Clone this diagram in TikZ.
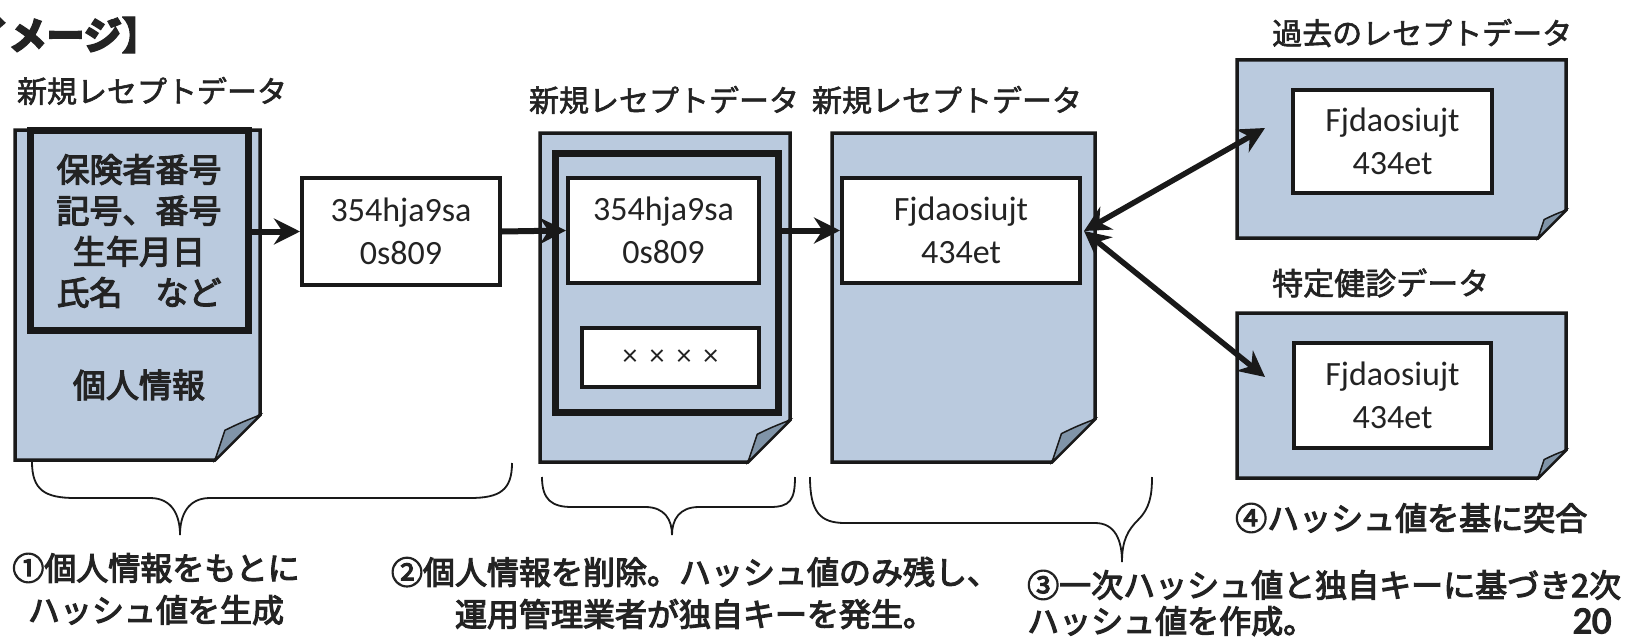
\documentclass[tikz,border=0pt]{standalone}
\usepackage{fontspec}
\setmainfont{Noto Sans CJK JP}[FakeBold=2]
\newfontfamily\jph{Noto Sans CJK JP}[FakeBold=3.5]
\newfontfamily\latf{Carlito}
\newfontfamily\latfb{Carlito}[FakeBold=4]
\usetikzlibrary{arrows.meta}
\definecolor{docblue}{RGB}{186,202,222}
\definecolor{flapc}{RGB}{128,148,168}
\definecolor{ink}{RGB}{25,25,25}
\definecolor{txt}{RGB}{35,35,35}
\newcommand{\paperdoc}[5]{%
  \draw[docline] (#1,#2) -- (#3,#2) -- (#3,#4-#5) -- (#3-#5,#4) -- (#1,#4) -- cycle;
  \draw[flap] (#3,#4-#5) .. controls (#3-0.45*#5,#4-0.82*#5) .. (#3-0.78*#5,#4-0.66*#5) -- (#3-#5,#4) -- cycle;}
\begin{document}
\begin{tikzpicture}[x=1pt,y=-1pt,
  lab/.style={font=\fontsize{30}{36}\selectfont, inner sep=0pt, text=txt},
  note/.style={font=\jph\fontsize{32}{42}\selectfont, inner sep=0pt, text=txt},
  hashbox/.style={draw=ink, line width=4pt, fill=white, text=txt,
     font=\latf\fontsize{34}{43}\selectfont, align=center, inner sep=0pt},
  thickbox/.style={draw=ink, line width=7pt, fill=docblue, inner sep=0pt},
  docline/.style={draw=ink, line width=3.5pt, fill=docblue, line join=miter},
  flap/.style={draw=ink, line width=1.5pt, fill=flapc},
  arr/.style={draw=ink, line width=6pt, -{Stealth[length=26pt,width=26pt]}},
  darr/.style={draw=ink, line width=5.5pt, {Stealth[length=26pt,width=26pt]}-{Stealth[length=26pt,width=26pt]}},
  brace/.style={draw=ink, line width=1.8pt}]
\useasboundingbox (0,0) rectangle (1641,642);
\fill[white] (0,0) rectangle (1641,642);

% title
\node[lab, font=\jph\fontsize{38}{44}\selectfont\bfseries, anchor=east] (title) at (160,35) {【イメージ】};

% labels
\node[lab] (l1) at (152,91) {新規レセプトデータ};
\node[lab] (l2) at (664,100) {新規レセプトデータ};
\node[lab] (l3) at (947,100) {新規レセプトデータ};
\node[lab, anchor=west] (l4) at (1272,33) {過去のレセプトデータ};
\node[lab, anchor=west, font=\fontsize{31}{36}\selectfont] (l5) at (1272,283) {特定健診データ};

% documents
\paperdoc{15}{130}{260}{460}{45}
\paperdoc{540}{133}{790}{462}{42}
\paperdoc{832}{133}{1095}{462}{43}
\paperdoc{1237}{60}{1566}{238}{28}
\paperdoc{1237}{313}{1566}{478}{28}

% doc 1 contents
\node[thickbox, minimum width=218pt, minimum height=200pt] (ib1) at (139,230) {};
\node[note, font=\jph\fontsize{33}{41}\selectfont, align=center] (pi) at (139,231)
  {保険者番号\\記号、番号\\生年月日\\氏名　など};
\node[note, font=\jph\fontsize{33}{40}\selectfont] (pl) at (139,385) {個人情報};

% hash boxes
\node[hashbox, minimum width=198pt, minimum height=107pt] (h1) at (401,231.5) {354hja9sa\\0s809};
\node[thickbox, minimum width=223pt, minimum height=259pt] (ib2) at (666.5,282.5) {};
\node[hashbox, minimum width=191pt, minimum height=105pt] (h2) at (663.5,230.5) {354hja9sa\\0s809};
\node[hashbox, minimum width=177pt, minimum height=59pt, font=\latf\fontsize{30}{36}\selectfont] (x2) at (670.5,357.5)
  {×\hspace{12pt}×\hspace{12pt}×\hspace{12pt}×};
\node[hashbox, minimum width=238pt, minimum height=105pt] (h3) at (961,230.5) {Fjdaosiujt\\434et};
\node[hashbox, minimum width=199pt, minimum height=103pt] (h4) at (1392.5,141.5) {Fjdaosiujt\\434et};
\node[hashbox, minimum width=197pt, minimum height=105pt] (h5) at (1392.5,395.5) {Fjdaosiujt\\434et};

% connectors
\coordinate (t4) at (1265,128);
\coordinate (t5) at (1265,377);
\coordinate (m3) at (1084,231);
\draw[arr] (ib1.east |- h1.west) -- (h1.west);
\draw[arr] (h1.east) -- (h2.west);
\draw[arr] (ib2.east |- h3.west) -- (h3.west);
\draw[darr] (m3) -- (t4);
\draw[darr] (m3) -- (t5);

% braces
\draw[brace] (32,462) .. controls (32,490) and (45,498) .. (75,498) -- (150,498)
  .. controls (172,498) and (180,515) .. (180,535)
  .. controls (180,515) and (188,498) .. (210,498) -- (470,498)
  .. controls (500,498) and (512,490) .. (512,463);
\draw[brace] (542,477) .. controls (542,500) and (552,507) .. (572,507) -- (645,507)
  .. controls (665,507) and (672,520) .. (672,535)
  .. controls (672,520) and (679,507) .. (699,507) -- (770,507)
  .. controls (790,507) and (795,500) .. (795,477);
\draw[brace] (810,477) .. controls (810,512) and (820,523) .. (845,523) -- (1095,523)
  .. controls (1115,523) and (1122,540) .. (1122,562)
  .. controls (1122,540) and (1128,530) .. (1138,520)
  .. controls (1150,508) and (1152,495) .. (1152,477);

% notes
\node[note, align=center] (n1) at (156,589) {①個人情報をもとに\\ハッシュ値を生成};
\node[note, align=center] (n2) at (695,593) {②個人情報を削除。ハッシュ値のみ残し、\\運用管理業者が独自キーを発生。};
\node[note, align=left, anchor=west, font=\jph\fontsize{32}{36}\selectfont] (n3) at (1027,603) {③一次ハッシュ値と独自キーに基づき2次\\ハッシュ値を作成。};
\node[note, anchor=west] (n4) at (1235,518) {④ハッシュ値を基に突合};
\node[note, font=\latfb\fontsize{38}{40}\selectfont] (pg) at (1592,621) {20};
\end{tikzpicture}
\end{document}
